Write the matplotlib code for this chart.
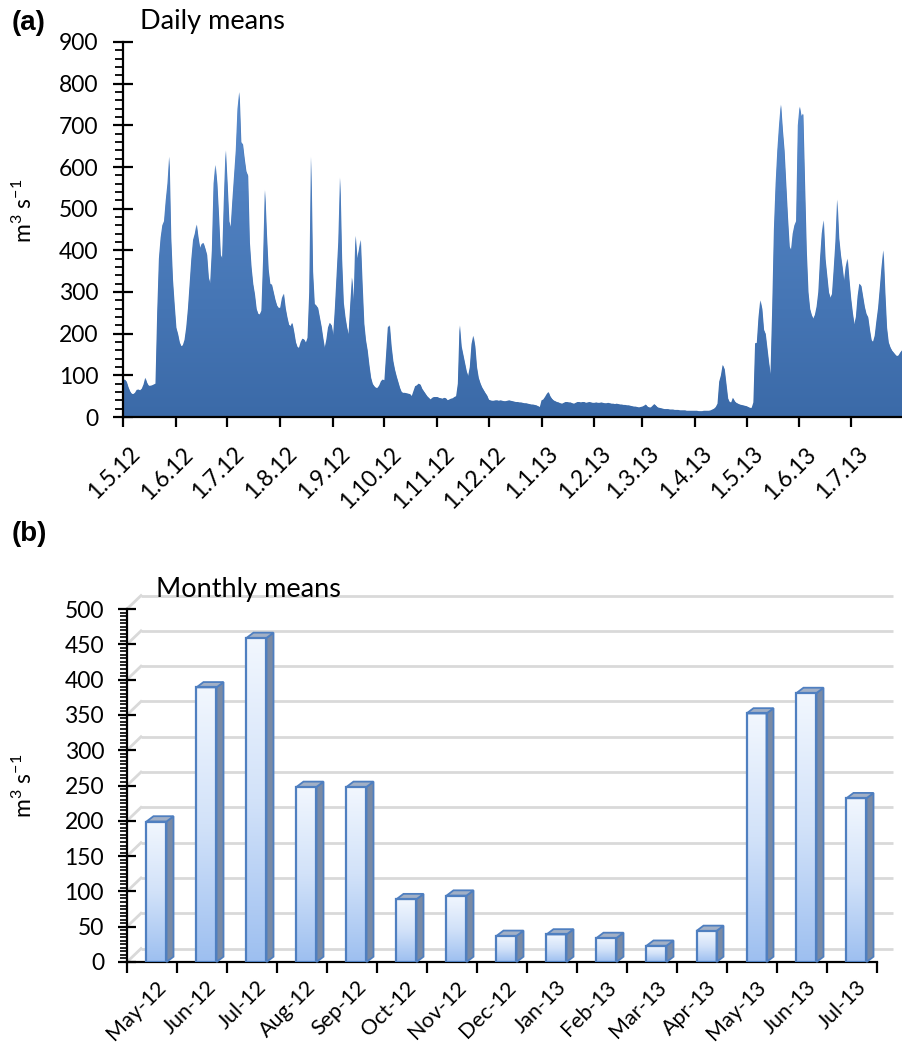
import numpy as np
import pandas as pd
import matplotlib

matplotlib.use("Agg")
import matplotlib.pyplot as plt  # noqa: E402
import matplotlib.dates as mdates  # noqa: E402
import matplotlib.transforms as mtransforms  # noqa: E402
from matplotlib.colors import LinearSegmentedColormap  # noqa: E402
from matplotlib.patches import Polygon, Rectangle  # noqa: E402
from matplotlib.ticker import FuncFormatter, MultipleLocator  # noqa: E402

plt.rcParams["font.family"] = ["Lato", "DejaVu Sans"]
plt.rcParams["mathtext.fontset"] = "custom"
plt.rcParams["mathtext.rm"] = "Lato"
plt.rcParams["mathtext.default"] = "regular"

# Daily mean discharge (m3/s), 1 May 2012 - 31 Jul 2013
START = "2012-05-01"
may12 = [88, 90, 85, 72, 62, 56, 55, 58, 65, 66, 64, 68, 78, 94, 82, 75, 75, 76, 78, 80,
         250, 380, 430, 460, 470, 520, 560, 625, 430, 330, 270]
jun12 = [215, 200, 180, 170, 172, 185, 215, 260, 320, 380, 425, 440, 462, 430, 405, 415,
         418, 405, 390, 335, 320, 400, 560, 605, 560, 480, 390, 380, 520, 640]
jul12 = [560, 470, 455, 520, 580, 640, 740, 780, 660, 655, 620, 590, 580, 420, 360, 320,
         295, 260, 248, 246, 255, 380, 545, 440, 355, 320, 318, 300, 282, 268, 262]
aug12 = [262, 285, 296, 262, 240, 222, 218, 226, 205, 180, 168, 166, 180, 188, 186, 178,
         190, 300, 625, 350, 272, 268, 262, 240, 218, 190, 165, 185, 215, 226, 220]
sep12 = [196, 260, 340, 420, 575, 380, 275, 240, 215, 198, 270, 335, 275, 435, 380, 400,
         425, 320, 225, 185, 160, 125, 95, 80, 74, 70, 70, 76, 86, 90]
oct12 = [88, 150, 215, 220, 170, 135, 114, 98, 84, 70, 60, 58, 58, 57, 56, 55, 50, 62, 74,
         76, 80, 78, 68, 62, 56, 50, 46, 42, 46, 48, 48]
nov12 = [48, 46, 45, 44, 46, 45, 40, 42, 44, 45, 48, 50, 80, 220, 170, 150, 130, 110, 98,
         120, 175, 195, 170, 120, 95, 82, 72, 65, 58, 52]
dec12 = [42, 40, 39, 39, 40, 40, 39, 40, 39, 38, 38, 39, 40, 39, 38, 37, 36, 36, 35, 35,
         34, 33, 33, 32, 31, 30, 30, 29, 28, 26, 24]
jan13 = [40, 42, 48, 55, 60, 50, 44, 40, 38, 36, 35, 33, 32, 34, 36, 36, 35, 35, 33, 32,
         34, 36, 36, 35, 36, 36, 34, 35, 36, 35, 34]
feb13 = [34, 35, 34, 34, 35, 34, 33, 33, 34, 33, 32, 32, 31, 32, 31, 30, 30, 29, 29, 28,
         28, 27, 26, 25, 25, 24, 23, 24]
mar13 = [25, 27, 30, 25, 23, 23, 27, 31, 27, 23, 22, 21, 20, 19, 19, 19, 18, 18, 18, 17,
         17, 17, 16, 16, 16, 16, 15, 15, 15, 15, 15]
apr13 = [15, 15, 14, 14, 14, 15, 15, 15, 15, 16, 18, 20, 24, 32, 85, 100, 125, 115, 80, 45,
         36, 35, 46, 38, 34, 32, 30, 29, 28, 27]
may13 = [26, 24, 22, 22, 35, 177, 178, 240, 280, 260, 210, 200, 165, 130, 102, 260, 450,
         560, 640, 700, 750, 690, 640, 560, 480, 410, 400, 440, 460, 470, 700]
jun13 = [745, 722, 728, 560, 400, 300, 260, 245, 236, 245, 265, 300, 380, 440, 472, 380,
         340, 300, 286, 295, 355, 420, 522, 430, 390, 360, 325, 360, 380, 330]
jul13 = [285, 250, 222, 240, 290, 320, 315, 290, 265, 248, 240, 210, 185, 180, 195, 230,
         262, 310, 360, 400, 300, 215, 180, 168, 160, 155, 150, 146, 148, 155, 160]

daily = (may12 + jun12 + jul12 + aug12 + sep12 + oct12 + nov12 + dec12
         + jan13 + feb13 + mar13 + apr13 + may13 + jun13 + jul13)

# Monthly means (m3/s)
months = ["May-12", "Jun-12", "Jul-12", "Aug-12", "Sep-12", "Oct-12", "Nov-12", "Dec-12",
          "Jan-13", "Feb-13", "Mar-13", "Apr-13", "May-13", "Jun-13", "Jul-13"]
monthly = [199, 389, 459, 248, 248, 89, 94, 37, 39, 34, 23, 44, 352, 381, 232]

W, H, DPI = 903, 1049, 100
TICK_FS = 16.5
fig = plt.figure(figsize=(W / DPI, H / DPI), dpi=DPI)


def px_axes(left, top, right, bottom):
    return fig.add_axes([left / W, 1 - bottom / H, (right - left) / W, (bottom - top) / H])


def style_axes(ax):
    for side in ("top", "right"):
        ax.spines[side].set_visible(False)
    for side in ("left", "bottom"):
        ax.spines[side].set_linewidth(1.6)
        ax.spines[side].set_color("black")


def shift_labels(labels, dx, dy=0):
    off = mtransforms.ScaledTranslation(dx / DPI, dy / DPI, fig.dpi_scale_trans)
    for lbl in labels:
        lbl.set_transform(lbl.get_transform() + off)


# ---- (a) daily means ----
ax1 = px_axes(123, 42, 902, 417)
style_axes(ax1)
dates = pd.date_range(START, periods=len(daily), freq="D")
xnum = mdates.date2num(dates)
poly = ax1.fill_between(xnum, daily, 0, color="#4677b8", lw=0, zorder=1)

fill_cmap = LinearSegmentedColormap.from_list("fill", ["#3b6aa8", "#5a8ccd"])
grad = np.linspace(0, 1, 256).reshape(-1, 1)
im = ax1.imshow(grad, extent=(xnum[0], xnum[-1], 0, 800), origin="lower",
                cmap=fill_cmap, aspect="auto", zorder=2)
im.set_clip_path(poly.get_paths()[0], transform=ax1.transData)

ax1.set_xlim(xnum[0], xnum[-1])
ax1.set_ylim(0, 900)
ax1.yaxis.set_major_locator(MultipleLocator(100))
ax1.yaxis.set_minor_locator(MultipleLocator(20))
ax1.xaxis.set_major_locator(mdates.MonthLocator())
ax1.xaxis.set_major_formatter(FuncFormatter(
    lambda v, pos: "{0.day}.{0.month}.{0:%y}".format(mdates.num2date(v))))
ax1.tick_params(axis="y", which="major", direction="inout", length=15, width=1.6,
                labelsize=TICK_FS, pad=10)
ax1.tick_params(axis="y", which="minor", direction="out", length=6, width=1.3)
ax1.tick_params(axis="x", which="major", direction="out", length=7, width=1.6,
                labelsize=TICK_FS, pad=12)
plt.setp(ax1.get_xticklabels(), rotation=45, ha="right", va="top", rotation_mode="anchor")
shift_labels(ax1.get_xticklabels(), 6)
ax1.set_ylabel("m$^{3}$ s$^{-1}$", fontsize=16.5)
ax1.yaxis.set_label_coords((36 - 123) / 779, 0.55)

fig.text(12 / W, 1 - 30 / H, "(a)", fontsize=20, fontweight="bold",
         family="Liberation Sans", va="baseline")
fig.text(140 / W, 1 - 29 / H, "Daily means", fontsize=19.5, va="baseline")

# ---- (b) monthly means, drawn as pseudo-3D columns ----
ax2 = px_axes(127, 609, 877, 962)
style_axes(ax2)
n = len(months)
ax2.set_xlim(-0.5, n - 0.5)
ax2.set_ylim(0, 500)

# depth offsets: back wall and column depth (data units)
WALL_DX, WALL_DY = 0.28, 19
COL_DX, COL_DY = 0.14, 7.5
BAR_W, BAR_SHIFT = 0.4, 0.09

for v in range(0, 501, 50):
    ax2.plot([-0.5 + WALL_DX, n - 0.5 + WALL_DX + 0.05], [v + WALL_DY, v + WALL_DY],
             color="#d9d9d9", lw=2, clip_on=False, zorder=0, solid_capstyle="butt")
    ax2.plot([-0.5, -0.5 + WALL_DX], [v, v + WALL_DY],
             color="#d9d9d9", lw=2, clip_on=False, zorder=0)

bar_cmap = LinearSegmentedColormap.from_list("bar", ["#9dbff0", "#d2e2f9", "#f2f7fe"])
edge = "#4f7fc0"
for i, val in enumerate(monthly):
    x0 = i - BAR_W / 2 + BAR_SHIFT
    x1 = x0 + BAR_W
    ax2.imshow(grad, extent=(x0, x1, 0, val), origin="lower", cmap=bar_cmap,
               aspect="auto", zorder=3)
    ax2.add_patch(Rectangle((x0, 0), BAR_W, val, fill=False, ec=edge, lw=1.6, zorder=4))
    ax2.add_patch(Polygon([(x1, 0), (x1 + COL_DX, COL_DY), (x1 + COL_DX, val + COL_DY),
                           (x1, val)], closed=True, fc="#7a8aa4", ec=edge, lw=1.3,
                          zorder=3, clip_on=False))
    ax2.add_patch(Polygon([(x0, val), (x0 + COL_DX, val + COL_DY),
                           (x1 + COL_DX, val + COL_DY), (x1, val)], closed=True,
                          fc="#a2b0c6", ec=edge, lw=1.3, zorder=3, clip_on=False))

ax2.set_xlim(-0.5, n - 0.5)
ax2.set_ylim(0, 500)
ax2.set_aspect("auto")
ax2.yaxis.set_major_locator(MultipleLocator(50))
ax2.yaxis.set_minor_locator(MultipleLocator(5))
ax2.set_xticks(np.arange(-0.5, n, 1))
ax2.set_xticklabels([])
ax2.set_xticks(np.arange(n), minor=True)
ax2.set_xticklabels(months, minor=True)
ax2.tick_params(axis="y", which="major", direction="inout", length=13, width=1.6,
                labelsize=TICK_FS, pad=10)
ax2.tick_params(axis="y", which="minor", direction="out", length=5, width=1.2)
ax2.tick_params(axis="x", which="major", direction="out", length=8, width=1.6)
ax2.tick_params(axis="x", which="minor", length=0, labelsize=15.5, pad=11)
plt.setp(ax2.get_xticklabels(minor=True), rotation=45, ha="right", va="top",
         rotation_mode="anchor")
shift_labels(ax2.get_xticklabels(minor=True), 4)
ax2.set_ylabel("m$^{3}$ s$^{-1}$", fontsize=16.5)
ax2.yaxis.set_label_coords((36 - 127) / 750, 0.5)

fig.text(12 / W, 1 - 541 / H, "(b)", fontsize=20, fontweight="bold",
         family="Liberation Sans", va="baseline")
fig.text(156 / W, 1 - 597 / H, "Monthly means", fontsize=19.5, va="baseline")

fig.savefig("out.png", dpi=DPI)
